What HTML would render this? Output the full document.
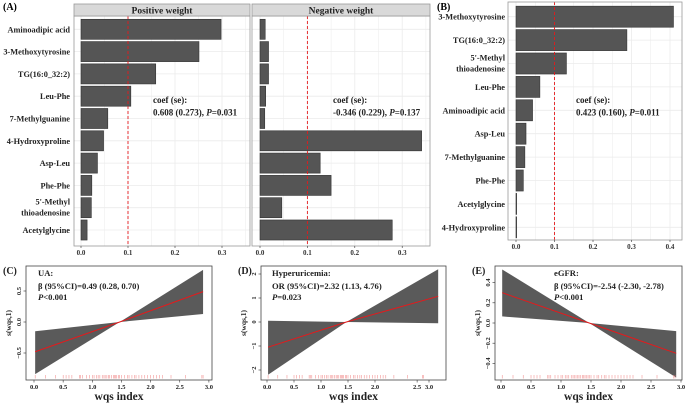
<!DOCTYPE html>
<html><head><meta charset="utf-8"><style>
body{margin:0;background:#fff}
svg{display:block}
svg text{font-family:"Liberation Serif","DejaVu Serif",serif;font-weight:bold}
</style></head><body>
<svg id="s" width="685" height="403" viewBox="0 0 685 403" font-family="Liberation Serif, serif" font-weight="bold"></svg>
<script>
const posLabels=["Aminoadipic acid","3-Methoxytyrosine","TG(16:0_32:2)","Leu-Phe","7-Methylguanine","4-Hydroxyproline","Asp-Leu","Phe-Phe","5'-Methyl|thioadenosine","Acetylglycine"];
const posValues=[0.298,0.251,0.159,0.106,0.057,0.048,0.035,0.023,0.022,0.013];
const negValues=[0.011,0.018,0.018,0.012,0.010,0.341,0.127,0.150,0.046,0.279];
const bLabels=["3-Methoxytyrosine","TG(16:0_32:2)","5'-Methyl|thioadenosine","Leu-Phe","Aminoadipic acid","Asp-Leu","7-Methylguanine","Phe-Phe","Acetylglycine","4-Hydroxyproline"];
const bValues=[0.409,0.288,0.131,0.062,0.043,0.026,0.023,0.019,0.001,0.001];
const barTicks=[0,0.1,0.2,0.3];
const bTicks=[0,0.1,0.2,0.3,0.4];
const rugValues=[0.02,0.2,0.37,0.5,0.55,0.6,0.65,0.78,0.8,0.83,0.9,0.95,1.0,1.03,1.07,1.1,1.13,1.17,1.2,1.22,1.25,1.28,1.3,1.33,1.36,1.38,1.4,1.42,1.45,1.47,1.5,1.55,1.6,1.63,1.68,1.72,1.75,1.8,1.85,1.9,1.95,2.0,2.05,2.1,2.15,2.2,2.35,2.6,2.88,2.9];
const cBand={x:[0.02,1.47,2.9],upper:[-0.15,0,0.84],lower:[-0.84,0,0.13],fit:[-0.48,0,0.49]};
const dBand={x:[0.02,1.47,3.17],upper:[0.05,0,2.2],lower:[-2.2,0,-0.05],fit:[-1.05,0,1.07]};
const eBand={x:[0.02,1.47,2.92],upper:[0.53,0,-0.08],lower:[0.065,0,-0.54],fit:[0.3,0,-0.3]};
const cXTicks=[0,0.5,1,1.5,2,2.5,3];const cXLabels=["0.0","0.5","1.0","1.5","2.0","2.5","3.0"];
const dXTicks=[0,0.5,1,1.5,2,2.78,3];const dXLabels=["0.0","0.5","1.0","1.5","2.0","2.5","3.0"];
const cYTicks=[-0.5,0,0.5];const cYLabels=["\u22120.5","0.0","0.5"];
const dYTicks=[-2,-1,0,1,2];const dYLabels=["\u22122","\u22121","0","1","2"];
const eYTicks=[-0.4,-0.2,0,0.2,0.4];const eYLabels=["\u22120.4","\u22120.2","0.0","0.2","0.4"];

const S=document.getElementById('s');const NS="http://www.w3.org/2000/svg";
function el(t,a,p){const e=document.createElementNS(NS,t);for(const k in a)e.setAttribute(k,a[k]);(p||S).appendChild(e);return e;}
function txt(x,y,s,a,name){const e=el('text',Object.assign({x:x,y:y,'font-family':'Liberation Serif, serif','font-weight':'bold'},a));e.textContent=s;

return e;}

function barPanel(x0,x1,y0,y1,zeroX,unit,ticks,values,rowTop,rowStep,name,labels,labelX){
  const g=el('g',{});
  
  
  el('rect',{x:x0,y:y0,width:x1-x0,height:y1-y0,fill:'#fff'},g);
  const sx=v=>zeroX+v*unit;
  for(let k=0;k<=ticks.length*2-1;k++){const v=k*0.05;el('line',{x1:sx(v),x2:sx(v),y1:y0,y2:y1,stroke:'#ebebeb','stroke-width':k%2==0?0.8:0.5},g);}
  values.forEach((v,i)=>{const cy=rowTop+i*rowStep;el('line',{x1:x0,x2:x1,y1:cy,y2:cy,stroke:'#ebebeb','stroke-width':0.8},g);});
  values.forEach((v,i)=>{const cy=rowTop+i*rowStep;const h=rowStep*0.9;
    const r=el('rect',{x:zeroX,y:cy-h/2,width:Math.max(0.6,v*unit),height:h,fill:'#555',stroke:'#333','stroke-width':0.6},g);
    
    });
  el('line',{x1:sx(0.1),x2:sx(0.1),y1:y0,y2:y1,stroke:'#e41a1c','stroke-width':0.9,'stroke-dasharray':'3,2'},g);
  el('rect',{x:x0,y:y0,width:x1-x0,height:y1-y0,fill:'none',stroke:'#999','stroke-width':0.8},g);
  ticks.forEach(t=>{el('line',{x1:sx(t),x2:sx(t),y1:y1,y2:y1+2,stroke:'#333','stroke-width':0.6},g);
    txt(sx(t),y1+9,t.toFixed(1),{'font-size':7,'text-anchor':'middle',fill:'#333'},'x-tick-label');});
  if(labels){labels.forEach((l,i)=>{const cy=rowTop+i*rowStep;const parts=l.split('|');
    if(parts.length==1)txt(labelX,cy+3,l,{'font-size':8.3,'text-anchor':'end',fill:'#222'},'y-tick-label');
    else{txt(labelX,cy-3,parts[0],{'font-size':8.3,'text-anchor':'end',fill:'#222'},'y-tick-label');txt(labelX,cy+8,parts[1],{'font-size':8.3,'text-anchor':'end',fill:'#222'},'y-tick-label');}
  });}
}
txt(3,10,"(A)",{'font-size':10},'panel-label-a');
barPanel(74,250,16,246,81,470,barTicks,posValues,29.3,22.3,'positive-weight-panel',posLabels,70);
barPanel(252,430,16,246,260,474,barTicks,negValues,29.3,22.3,'negative-weight-panel',null,0);
[[74,250,"Positive weight"],[252,430,"Negative weight"]].forEach(s=>{el('rect',{x:s[0],y:4,width:s[1]-s[0],height:12,fill:'#d9d9d9',stroke:'#999','stroke-width':0.8});
  txt((s[0]+s[1])/2,13.5,s[2],{'font-size':9.5,'text-anchor':'middle',fill:'#222'},'strip-title');});
function coef(x,y,l1,p){txt(x,y,"coef (se):",{'font-size':9,fill:'#222'},'coef-label');
  const t=txt(x,y+12.5,"",{'font-size':9,fill:'#222'},'coef-value');
  const a=document.createElementNS(NS,'tspan');a.textContent=l1+", ";t.appendChild(a);
  const b=document.createElementNS(NS,'tspan');b.setAttribute('font-style','italic');b.textContent="P";t.appendChild(b);
  const c=document.createElementNS(NS,'tspan');c.textContent="="+p;t.appendChild(c);}
coef(153,103,"0.608 (0.273)",'0.031');
coef(333,103,"-0.346 (0.229)",'0.137');
txt(437,10,"(B)",{'font-size':10},'panel-label-b');
barPanel(508,682,2,240,516,385,bTicks,bValues,16.7,23.4,'panel-b-weights',bLabels,505);
coef(576,103,"0.423 (0.160)",'0.011');

function linePanel(name,lbl,box,xz,xu,yz,yu,band,xt,xl,yt,yl,lines){
  const [x0,y0,x1,y1]=box;const sx=v=>xz+v*xu, sy=v=>yz-v*yu;
  const g=el('g',{});
  
  
  const up=band.x.map((x,i)=>sx(x)+','+sy(band.upper[i]));
  const lo=band.x.map((x,i)=>sx(x)+','+sy(band.lower[i])).reverse();
  const poly=el('polygon',{points:up.concat(lo).join(' '),fill:'#5a5a5a'},g);
  
  
  const fl=el('polyline',{points:band.x.map((x,i)=>sx(x)+','+sy(band.fit[i])).join(' '),fill:'none',stroke:'#e41a1c','stroke-width':1},g);
  
  
  rugValues.forEach(v=>{const r=el('line',{x1:sx(v),x2:sx(v),y1:y1-5,y2:y1-1.5,stroke:'#f08080','stroke-width':0.5},g);
    
    });
  el('rect',{x:x0,y:y0,width:x1-x0,height:y1-y0,fill:'none',stroke:'#444','stroke-width':0.8},g);
  xt.forEach((t,i)=>{el('line',{x1:sx(t),x2:sx(t),y1:y1,y2:y1+2.5,stroke:'#333','stroke-width':0.6},g);
    txt(sx(t),y1+9,xl[i],{'font-size':6.5,'text-anchor':'middle',fill:'#222'},'x-tick-label');});
  yt.forEach((t,i)=>{el('line',{x1:x0,x2:x0-2.5,y1:sy(t),y2:sy(t),stroke:'#333','stroke-width':0.6},g);
    txt(0,0,yl[i],{'font-size':6.5,'text-anchor':'middle',fill:'#222',transform:`translate(${x0-5},${sy(t)}) rotate(-90)`},'y-tick-label');});
  txt((x0+x1)/2,y1+20,"wqs index",{'font-size':11.5,'text-anchor':'middle',fill:'#222'},'x-axis-title');
  txt(0,0,"s(wqs,1)",{'font-size':7.5,'text-anchor':'middle',fill:'#222',transform:`translate(${x0-15},${(y0+y1)/2}) rotate(-90)`},'y-axis-title');
  txt(x0-23,y0+8,lbl,{'font-size':10,fill:'#222'},'panel-label');
  lines.forEach((l,i)=>{const t=txt(l[0],l[1],"",{'font-size':8.6,fill:'#222'},'annotation');
    l[2].forEach(p=>{const s=document.createElementNS(NS,'tspan');if(p[1])s.setAttribute('font-style','italic');s.textContent=p[0];t.appendChild(s);});});
}
linePanel('panel-c-ua',"(C)",[26,266,212,380],34,58.3,322,62,cBand,cXTicks,cXLabels,cYTicks,cYLabels,
 [[38,276,[["UA:"]]],[38,289,[["β (95%CI)=0.49 (0.28, 0.70)"]]],[38,300,[["P",1],["<0.001"]]]]);
linePanel('panel-d-hyperuricemia',"(D)",[261,266,446,380],267,54,322,24,dBand,dXTicks,dXLabels,dYTicks,dYLabels,
 [[272,276,[["Hyperuricemia:"]]],[272,289,[["OR (95%CI)=2.32 (1.13, 4.76)"]]],[272,300,[["P",1],["=0.023"]]]]);
linePanel('panel-e-egfr',"(E)",[495,266,682,380],501,60,323,101,eBand,cXTicks,cXLabels,eYTicks,eYLabels,
 [[554,276,[["eGFR:"]]],[554,289,[["β (95%CI)=-2.54 (-2.30, -2.78)"]]],[554,300,[["P",1],["<0.001"]]]]);
</script>
</body></html>
